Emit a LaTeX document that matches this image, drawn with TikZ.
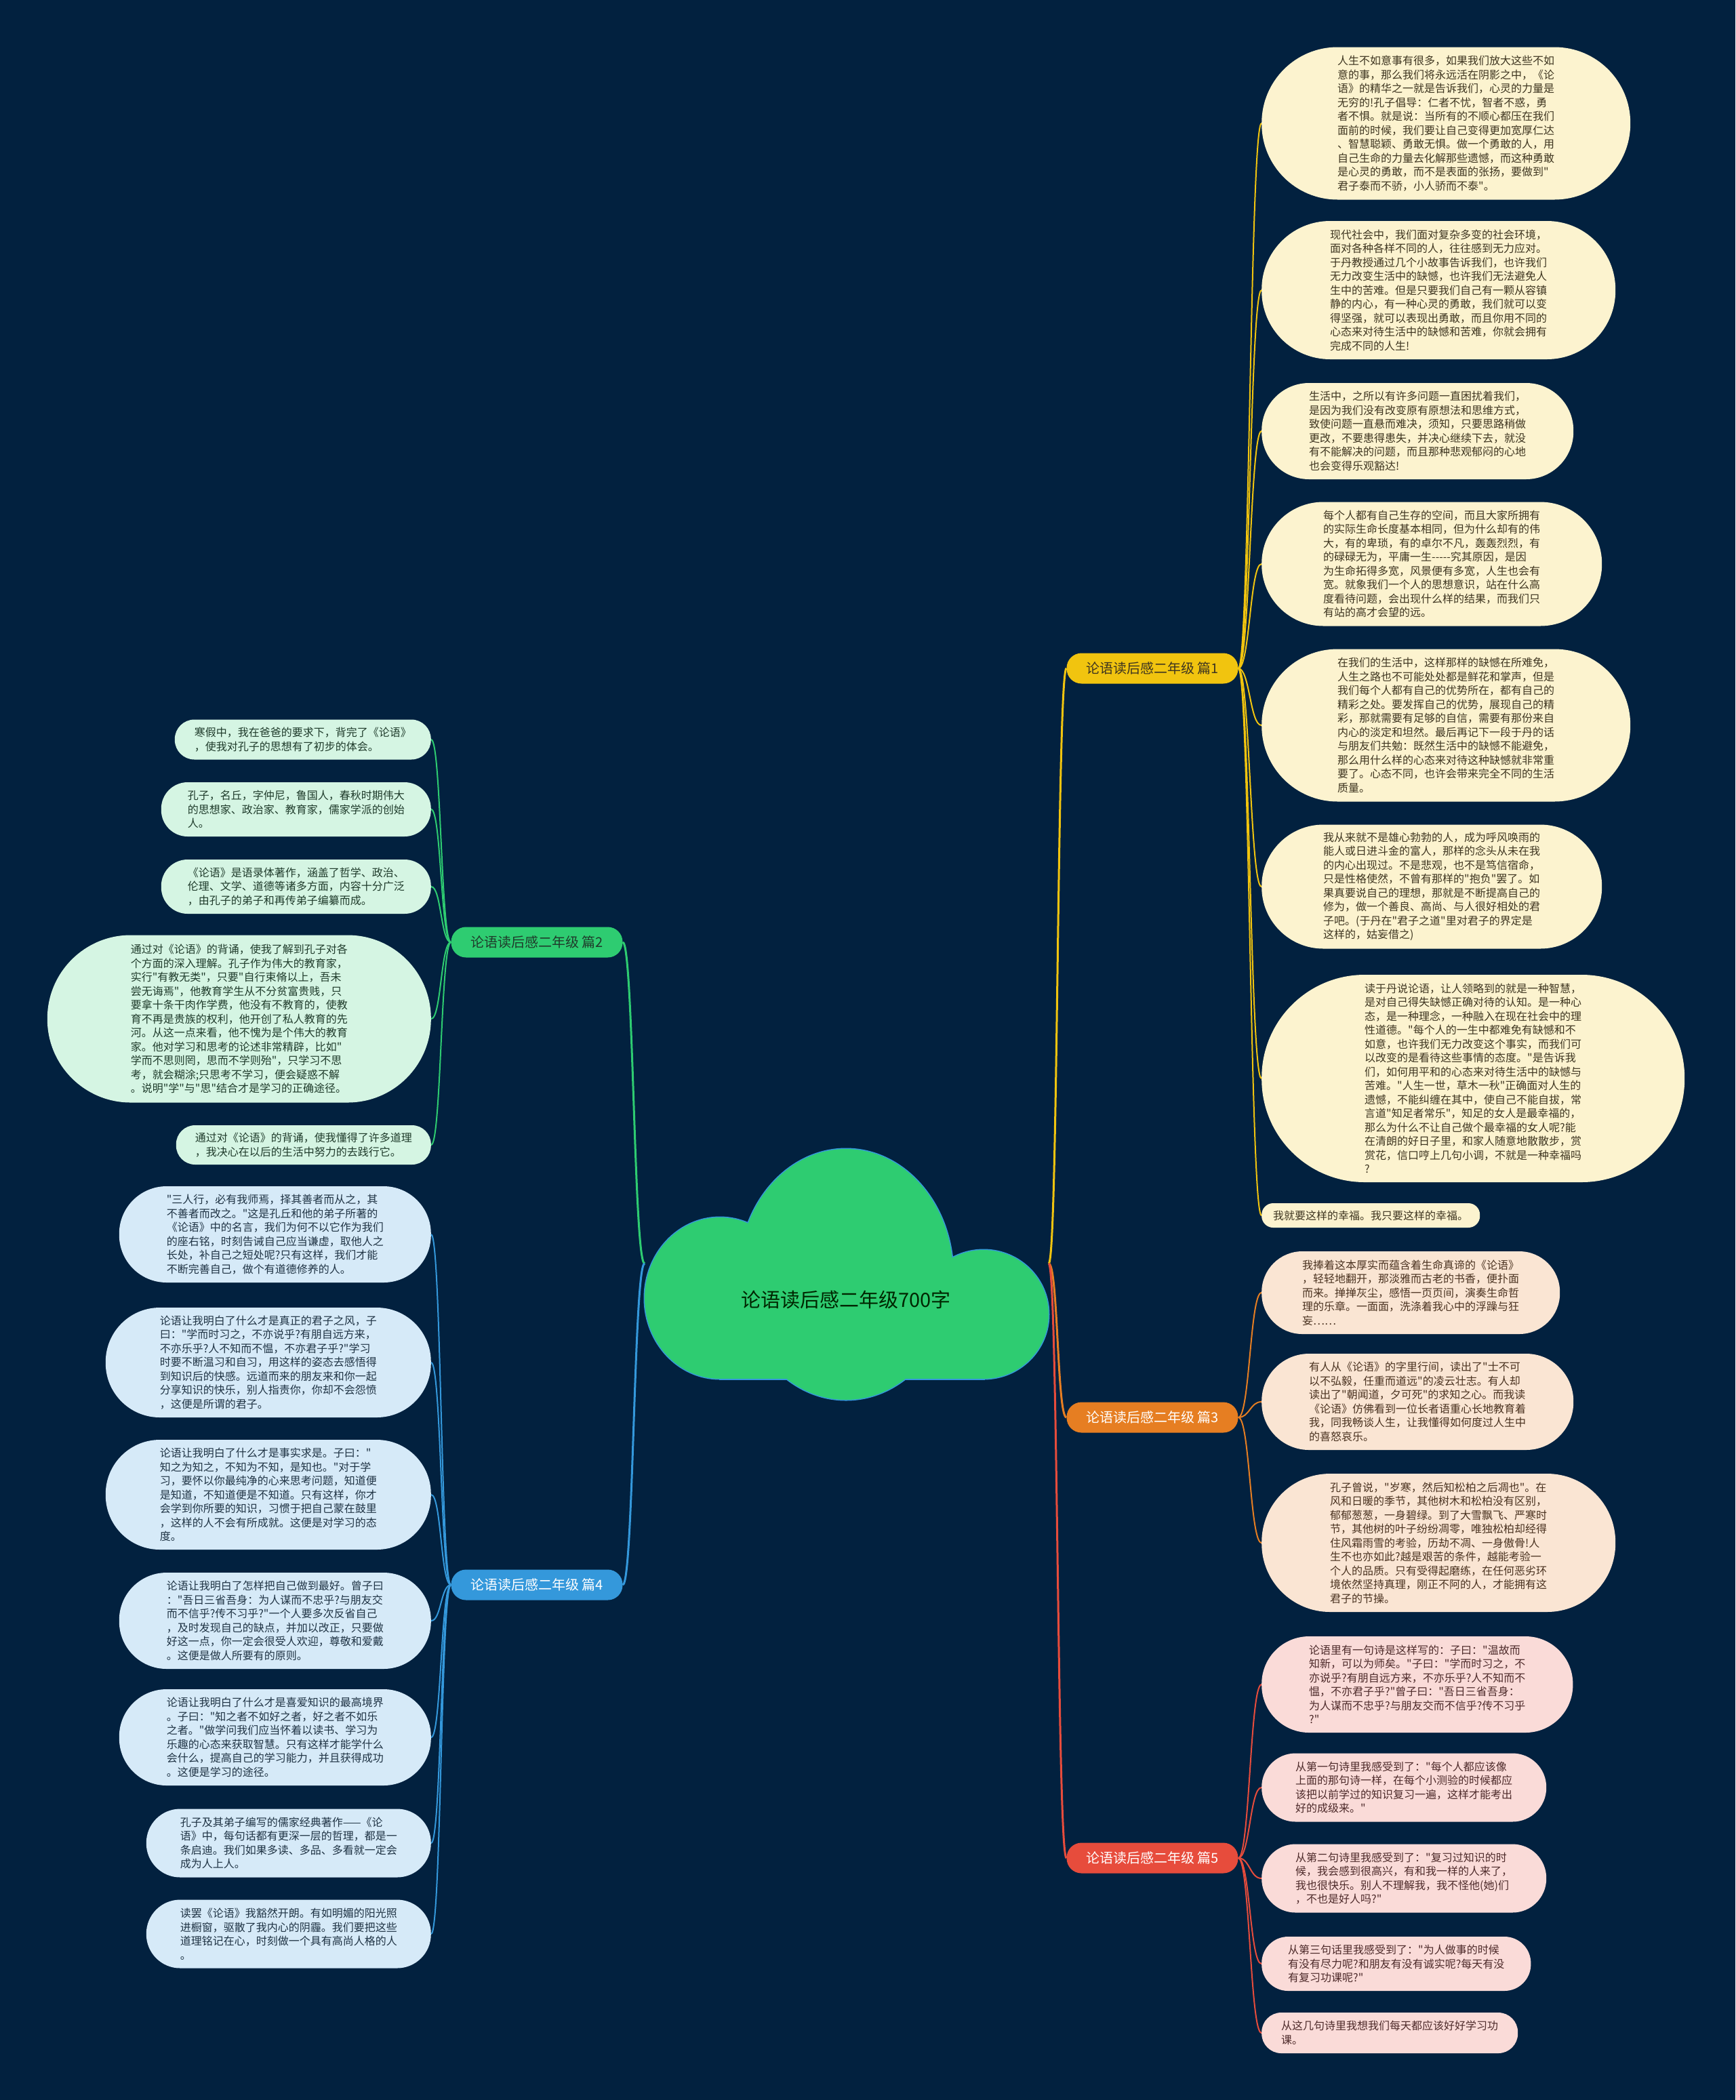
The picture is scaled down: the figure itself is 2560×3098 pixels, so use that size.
\documentclass[tikz,border=0pt]{standalone}
\usepackage{fontspec}
\newfontfamily\cjk{Noto Sans CJK SC}
\definecolor{bg}{HTML}{02213F}
\definecolor{cyel}{HTML}{F1C40F}
\definecolor{cora}{HTML}{E67E22}
\definecolor{cred}{HTML}{E74C3C}
\definecolor{cgrn}{HTML}{2ECC71}
\definecolor{cblu}{HTML}{3498DB}
\definecolor{fyel}{HTML}{FCF3CF}
\definecolor{fora}{HTML}{FAE5D3}
\definecolor{fred}{HTML}{FADBD8}
\definecolor{fgrn}{HTML}{D5F5E3}
\definecolor{fblu}{HTML}{D6EAF8}
\definecolor{tyel}{HTML}{3E3520}
\definecolor{tora}{HTML}{4A3220}
\definecolor{tred}{HTML}{4D2A2A}
\definecolor{tgrn}{HTML}{1F3B2B}
\definecolor{tblu}{HTML}{1F3344}
\newcommand\leaf[8]{\node[leafbox,#7,anchor=#2,minimum height=#5pt,inner xsep=#6pt,rounded corners=#6pt] (#1) at (#3,#4) {#8};}
\begin{document}
\begin{tikzpicture}[x=1pt,y=-1pt,
  leafbox/.style={inner ysep=0pt,align=left,font=\cjk\fontsize{16}{20.5}\selectfont},
  lyel/.style={fill=fyel,text=tyel},
  lora/.style={fill=fora,text=tora},
  lred/.style={fill=fred,text=tred},
  lgrn/.style={fill=fgrn,text=tgrn},
  lblu/.style={fill=fblu,text=tblu},
  branch/.style={minimum width=253pt,minimum height=45pt,rounded corners=22pt,inner sep=0pt,font=\cjk\fontsize{20}{24}\selectfont},
  mainline/.style={line width=3pt},
  subline/.style={line width=2pt}]
\fill[bg] (0,0) rectangle (2560,3098);
\useasboundingbox (0,0) rectangle (2560,3098);

% cloud
\begin{scope}
\draw[cblu,line width=3pt] (1248,1880) ellipse [x radius=158,y radius=185];
\draw[cblu,line width=3pt] (1062,1915) ellipse [x radius=111,y radius=119];
\draw[cblu,line width=3pt] (1451,1939) ellipse [x radius=96,y radius=95];
\draw[cblu,line width=3pt] (1062,1900) rectangle (1451,2034);
\fill[cgrn] (1248,1880) ellipse [x radius=158,y radius=185];
\fill[cgrn] (1062,1915) ellipse [x radius=111,y radius=119];
\fill[cgrn] (1451,1939) ellipse [x radius=96,y radius=95];
\fill[cgrn] (1062,1900) rectangle (1451,2034);
\end{scope}
\node[font=\cjk\fontsize{29}{34}\selectfont,text=black!85!green] (center) at (1248,1917) {论语读后感二年级700字};
\coordinate (cL) at (951,1864);
\coordinate (cR) at (1547,1864);

% branch nodes
\node[branch,fill=cyel,text=tyel] (p1) at (1700,986) {论语读后感二年级 篇1};
\node[branch,fill=cora,text=white] (p3) at (1700,2091) {论语读后感二年级 篇3};
\node[branch,fill=cred,text=white] (p5) at (1700,2741) {论语读后感二年级 篇5};
\node[branch,fill=cgrn,text=tgrn] (p2) at (792,1390) {论语读后感二年级 篇2};
\node[branch,fill=cblu,text=white] (p4) at (792,2338) {论语读后感二年级 篇4};

% leaves of p1
\leaf{a1}{west}{1861}{182}{225}{112}{lyel}{人生不如意事有很多，如果我们放大这些不如\\意的事，那么我们将永远活在阴影之中，《论\\语》的精华之一就是告诉我们，心灵的力量是\\无穷的!孔子倡导：仁者不忧，智者不惑，勇\\者不惧。就是说：当所有的不顺心都压在我们\\面前的时候，我们要让自己变得更加宽厚仁达\\、智慧聪颖、勇敢无惧。做一个勇敢的人，用\\自己生命的力量去化解那些遗憾，而这种勇敢\\是心灵的勇敢，而不是表面的张扬，要做到"\\君子泰而不骄，小人骄而不泰"。}
\leaf{a2}{west}{1861}{428}{204}{101}{lyel}{现代社会中，我们面对复杂多变的社会环境，\\面对各种各样不同的人，往往感到无力应对。\\于丹教授通过几个小故事告诉我们，也许我们\\无力改变生活中的缺憾，也许我们无法避免人\\生中的苦难。但是只要我们自己有一颗从容镇\\静的内心，有一种心灵的勇敢，我们就可以变\\得坚强，就可以表现出勇敢，而且你用不同的\\心态来对待生活中的缺憾和苦难，你就会拥有\\完成不同的人生!}
\leaf{a3}{west}{1861}{636}{142}{70}{lyel}{生活中，之所以有许多问题一直困扰着我们，\\是因为我们没有改变原有原想法和思维方式，\\致使问题一直悬而难决，须知，只要思路稍做\\更改，不要患得患失，并决心继续下去，就没\\有不能解决的问题，而且那种悲观郁闷的心地\\也会变得乐观豁达!}
\leaf{a4}{west}{1861}{832}{183}{91}{lyel}{每个人都有自己生存的空间，而且大家所拥有\\的实际生命长度基本相同，但为什么却有的伟\\大，有的卑琐，有的卓尔不凡，轰轰烈烈，有\\的碌碌无为，平庸一生-----究其原因，是因\\为生命拓得多宽，风景便有多宽，人生也会有\\宽。就象我们一个人的思想意识，站在什么高\\度看待问题，会出现什么样的结果，而我们只\\有站的高才会望的远。}
\leaf{a5}{west}{1861}{1070}{225}{112}{lyel}{在我们的生活中，这样那样的缺憾在所难免，\\人生之路也不可能处处都是鲜花和掌声，但是\\我们每个人都有自己的优势所在，都有自己的\\精彩之处。要发挥自己的优势，展现自己的精\\彩，那就需要有足够的自信，需要有那份来自\\内心的淡定和坦然。最后再记下一段于丹的话\\与朋友们共勉：既然生活中的缺憾不能避免，\\那么用什么样的心态来对待这种缺憾就非常重\\要了。心态不同，也许会带来完全不同的生活\\质量。}
\leaf{a6}{west}{1861}{1308}{183}{91}{lyel}{我从来就不是雄心勃勃的人，成为呼风唤雨的\\能人或日进斗金的富人，那样的念头从未在我\\的内心出现过。不是悲观，也不是笃信宿命，\\只是性格使然，不曾有那样的"抱负"罢了。如\\果真要说自己的理想，那就是不断提高自己的\\修为，做一个善良、高尚、与人很好相处的君\\子吧。(于丹在"君子之道"里对君子的界定是\\这样的，姑妄借之)}
\leaf{a7}{west}{1861}{1591}{306}{152}{lyel}{读于丹说论语，让人领略到的就是一种智慧，\\是对自己得失缺憾正确对待的认知。是一种心\\态，是一种理念，一种融入在现在社会中的理\\性道德。"每个人的一生中都难免有缺憾和不\\如意，也许我们无力改变这个事实，而我们可\\以改变的是看待这些事情的态度。"是告诉我\\们，如何用平和的心态来对待生活中的缺憾与\\苦难。"人生一世，草木一秋"正确面对人生的\\遗憾，不能纠缠在其中，使自己不能自拔，常\\言道"知足者常乐"，知足的女人是最幸福的，\\那么为什么不让自己做个最幸福的女人呢?能\\在清朗的好日子里，和家人随意地散散步，赏\\赏花，信口哼上几句小调，不就是一种幸福吗\\?}
\leaf{a8}{west}{1861}{1793}{36}{17}{lyel}{我就要这样的幸福。我只要这样的幸福。}

% leaves of p3
\leaf{c1}{west}{1861}{1907}{122}{60}{lora}{我捧着这本厚实而蕴含着生命真谛的《论语》\\，轻轻地翻开，那淡雅而古老的书香，便扑面\\而来。掸掸灰尘，感悟一页页间，演奏生命哲\\理的乐章。一面面，洗涤着我心中的浮躁与狂\\妄……}
\leaf{c2}{west}{1861}{2068}{142}{70}{lora}{有人从《论语》的字里行间，读出了"士不可\\以不弘毅，任重而道远"的凌云壮志。有人却\\读出了"朝闻道，夕可死"的求知之心。而我读\\《论语》仿佛看到一位长者语重心长地教育着\\我，同我畅谈人生，让我懂得如何度过人生中\\的喜怒哀乐。}
\leaf{c3}{west}{1861}{2276}{204}{101}{lora}{孔子曾说，"岁寒，然后知松柏之后凋也"。在\\风和日暖的季节，其他树木和松柏没有区别，\\郁郁葱葱，一身碧绿。到了大雪飘飞、严寒时\\节，其他树的叶子纷纷凋零，唯独松柏却经得\\住风霜雨雪的考验，历劫不凋、一身傲骨!人\\生不也亦如此?越是艰苦的条件，越能考验一\\个人的品质。只有受得起磨练，在任何恶劣环\\境依然坚持真理，刚正不阿的人，才能拥有这\\君子的节操。}

% leaves of p5
\leaf{e1}{west}{1861}{2485}{142}{70}{lred}{论语里有一句诗是这样写的：子曰："温故而\\知新，可以为师矣。"子曰："学而时习之，不\\亦说乎?有朋自远方来，不亦乐乎?人不知而不\\愠，不亦君子乎?"曾子曰："吾日三省吾身：\\为人谋而不忠乎?与朋友交而不信乎?传不习乎\\?"}
\leaf{e2}{west}{1861}{2637}{101}{50}{lred}{从第一句诗里我感受到了："每个人都应该像\\上面的那句诗一样，在每个小测验的时候都应\\该把以前学过的知识复习一遍，这样才能考出\\好的成级来。"}
\leaf{e3}{west}{1861}{2771}{101}{50}{lred}{从第二句诗里我感受到了："复习过知识的时\\候，我会感到很高兴，有和我一样的人来了，\\我也很快乐。别人不理解我，我不怪他(她)们\\，不也是好人吗?"}
\leaf{e4}{west}{1861}{2897}{80}{39}{lred}{从第三句话里我感受到了："为人做事的时候\\有没有尽力呢?和朋友有没有诚实呢?每天有没\\有复习功课呢?"}
\leaf{e5}{west}{1861}{2999}{60}{29}{lred}{从这几句诗里我想我们每天都应该好好学习功\\课。}

% leaves of p2
\leaf{b1}{east}{636}{1091}{59}{29}{lgrn}{寒假中，我在爸爸的要求下，背完了《论语》\\，使我对孔子的思想有了初步的体会。}
\leaf{b2}{east}{636}{1194}{80}{39}{lgrn}{孔子，名丘，字仲尼，鲁国人，春秋时期伟大\\的思想家、政治家、教育家，儒家学派的创始\\人。}
\leaf{b3}{east}{636}{1308}{80}{39}{lgrn}{《论语》是语录体著作，涵盖了哲学、政治、\\伦理、文学、道德等诸多方面，内容十分广泛\\，由孔子的弟子和再传弟子编纂而成。}
\leaf{b4}{east}{636}{1503}{247}{123}{lgrn}{通过对《论语》的背诵，使我了解到孔子对各\\个方面的深入理解。孔子作为伟大的教育家，\\实行"有教无类"，只要"自行束脩以上，吾未\\尝无诲焉"，他教育学生从不分贫富贵贱，只\\要拿十条干肉作学费，他没有不教育的，使教\\育不再是贵族的权利，他开创了私人教育的先\\河。从这一点来看，他不愧为是个伟大的教育\\家。他对学习和思考的论述非常精辟，比如"\\学而不思则罔，思而不学则殆"，只学习不思\\考，就会糊涂;只思考不学习，便会疑惑不解\\。说明"学"与"思"结合才是学习的正确途径。}
\leaf{b5}{east}{636}{1689}{58}{28}{lgrn}{通过对《论语》的背诵，使我懂得了许多道理\\，我决心在以后的生活中努力的去践行它。}

% leaves of p4
\leaf{d1}{east}{636}{1821}{142}{70}{lblu}{"三人行，必有我师焉，择其善者而从之，其\\不善者而改之。"这是孔丘和他的弟子所著的\\《论语》中的名言，我们为何不以它作为我们\\的座右铭，时刻告诫自己应当谦虚，取他人之\\长处，补自己之短处呢?只有这样，我们才能\\不断完善自己，做个有道德修养的人。}
\leaf{d2}{east}{636}{2010}{162}{80}{lblu}{论语让我明白了什么才是真正的君子之风，子\\曰："学而时习之，不亦说乎?有朋自远方来，\\不亦乐乎?人不知而不愠，不亦君子乎?"学习\\时要不断温习和自习，用这样的姿态去感悟得\\到知识后的快感。远道而来的朋友来和你一起\\分享知识的快乐，别人指责你，你却不会怨愤\\，这便是所谓的君子。}
\leaf{d3}{east}{636}{2205}{162}{80}{lblu}{论语让我明白了什么才是事实求是。子曰："\\知之为知之，不知为不知，是知也。"对于学\\习，要怀以你最纯净的心来思考问题，知道便\\是知道，不知道便是不知道。只有这样，你才\\会学到你所要的知识，习惯于把自己蒙在鼓里\\，这样的人不会有所成就。这便是对学习的态\\度。}
\leaf{d4}{east}{636}{2391}{142}{70}{lblu}{论语让我明白了怎样把自己做到最好。曾子曰\\："吾日三省吾身：为人谋而不忠乎?与朋友交\\而不信乎?传不习乎?"一个人要多次反省自己\\，及时发现自己的缺点，并加以改正，只要做\\好这一点，你一定会很受人欢迎，尊敬和爱戴\\。这便是做人所要有的原则。}
\leaf{d5}{east}{636}{2563}{142}{70}{lblu}{论语让我明白了什么才是喜爱知识的最高境界\\。子曰："知之者不如好之者，好之者不如乐\\之者。"做学问我们应当怀着以读书、学习为\\乐趣的心态来获取智慧。只有这样才能学什么\\会什么，提高自己的学习能力，并且获得成功\\。这便是学习的途径。}
\leaf{d6}{east}{636}{2719}{101}{50}{lblu}{孔子及其弟子编写的儒家经典著作——《论\\语》中，每句话都有更深一层的哲理，都是一\\条启迪。我们如果多读、多品、多看就一定会\\成为人上人。}
\leaf{d7}{east}{636}{2853}{101}{50}{lblu}{读罢《论语》我豁然开朗。有如明媚的阳光照\\进橱窗，驱散了我内心的阴霾。我们要把这些\\道理铭记在心，时刻做一个具有高尚人格的人\\。}

% main connectors
\draw[mainline,cyel] (cR) .. controls +(14,0) and +(-14,0) .. (p1.west);
\draw[mainline,cora] (cR) .. controls +(14,0) and +(-14,0) .. (p3.west);
\draw[mainline,cred] (cR) .. controls +(14,0) and +(-14,0) .. (p5.west);
\draw[mainline,cgrn] (cL) .. controls +(-16,0) and +(16,0) .. (p2.east);
\draw[mainline,cblu] (cL) .. controls +(-16,0) and +(16,0) .. (p4.east);

% sub connectors
\foreach \n in {a1,a2,a3,a4,a5,a6,a7,a8}
  \draw[subline,cyel] (p1.east) .. controls +(17,0) and +(-17,0) .. (\n.west);
\foreach \n in {c1,c2,c3}
  \draw[subline,cora] (p3.east) .. controls +(17,0) and +(-17,0) .. (\n.west);
\foreach \n in {e1,e2,e3,e4,e5}
  \draw[subline,cred] (p5.east) .. controls +(17,0) and +(-17,0) .. (\n.west);
\foreach \n in {b1,b2,b3,b4,b5}
  \draw[subline,cgrn] (p2.west) .. controls +(-15,0) and +(15,0) .. (\n.east);
\foreach \n in {d1,d2,d3,d4,d5,d6,d7}
  \draw[subline,cblu] (p4.west) .. controls +(-15,0) and +(15,0) .. (\n.east);
\end{tikzpicture}
\end{document}
